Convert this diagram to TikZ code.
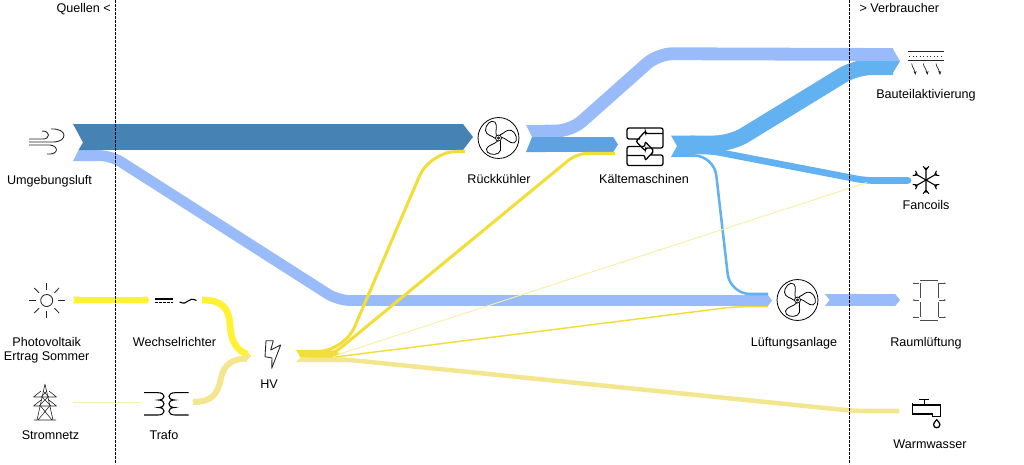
\documentclass[tikz,border=0pt]{standalone}
\usepackage{fontspec}
\setmainfont{Liberation Sans}
\usetikzlibrary{arrows.meta}
\definecolor{darkair}{RGB}{70,130,180}
\definecolor{coolair}{RGB}{154,187,250}
\definecolor{recool}{RGB}{94,162,225}
\definecolor{chilled}{RGB}{98,177,240}
\definecolor{pvyellow}{RGB}{255,241,51}
\definecolor{hvyellow}{RGB}{242,222,58}
\definecolor{paleyellow}{RGB}{243,230,143}
\definecolor{faintyellow}{RGB}{247,239,165}
\tikzset{every picture/.style={line width=0.75pt}}
\tikzset{
  lbl/.style={anchor=north,inner sep=0.75pt,align=center,text height=7pt,text depth=2pt,font=\fontsize{9.45}{10.5}\selectfont},
  band/.style={line join=round,rounded corners=9pt},
  bandends/.style={{Triangle Cap[reversed,length=#1]}-{Triangle Cap[length=#1]}},
  bandhead/.style={-{Triangle Cap[length=#1]}},
  icon/.style={line width=0.65pt,color=black!85},
  thinicon/.style={line width=0.4pt,color=black!70},
  fanicon/.pic={
    \draw [line width=0.6pt] (0,0) circle (3);
    \draw [line width=0.5pt] (0,0) circle (1.2);
    \draw [line width=0.6pt] (-1,-3) .. controls (-3,-6) and (-11,-7) .. (-12,-11) .. controls (-13,-16) and (-4,-18) .. (0,-15) .. controls (4,-12) and (1,-7) .. (2,-3);
    \draw [line width=0.6pt,rotate=120] (-1,-3) .. controls (-3,-6) and (-11,-7) .. (-12,-11) .. controls (-13,-16) and (-4,-18) .. (0,-15) .. controls (4,-12) and (1,-7) .. (2,-3);
    \draw [line width=0.6pt,rotate=240] (-1,-3) .. controls (-3,-6) and (-11,-7) .. (-12,-11) .. controls (-13,-16) and (-4,-18) .. (0,-15) .. controls (4,-12) and (1,-7) .. (2,-3);
  }
}

\begin{document}
\begin{tikzpicture}[x=0.75pt,y=0.75pt,yscale=-1,xscale=1]
\useasboundingbox (0,0) rectangle (1024,464);

% Ports of the flows
\coordinate (luftDark) at (95,137);
\coordinate (luftCool) at (90,155.5);
\coordinate (rueckIn) at (473,137);
\coordinate (rueckCoolOut) at (545,131);
\coordinate (rueckOut) at (545,144.5);
\coordinate (kaelteIn) at (618,144.5);
\coordinate (kaelteOutA) at (690,143.5);
\coordinate (kaelteOutB) at (690,151);
\coordinate (kaelteOutC) at (690,155.5);
\coordinate (bauteilCool) at (893,54.5);
\coordinate (bauteilCold) at (893,67);
\coordinate (fancoilIn) at (908,180.5);
\coordinate (lueftIn) at (772,300.5);
\coordinate (lueftInB) at (768,294);
\coordinate (lueftInY) at (768,306.7);
\coordinate (lueftOut) at (825,300);
\coordinate (raumIn) at (900,300);
\coordinate (pvOut) at (73,300);
\coordinate (wrIn) at (149,300);
\coordinate (wrOut) at (202,300);
\coordinate (netzOut) at (73,402.5);
\coordinate (trafoIn) at (140,402.5);
\coordinate (trafoOut) at (193,402);
\coordinate (hvInA) at (247,354);
\coordinate (hvInB) at (247,358.5);
\coordinate (hvOutA) at (310,351.5);
\coordinate (hvOutB) at (310,355);
\coordinate (hvOutC) at (335,355.5);
\coordinate (hvOutD) at (335,357);
\coordinate (hvOutE) at (310,359.5);
\coordinate (rueckInY) at (465,151.5);
\coordinate (kaelteInY) at (615,153.3);
\coordinate (fancoilInY) at (867,182.5);
\coordinate (warmIn) at (899,411);

% Light blue flows
\draw [band,coolair,line width=8.1pt,bandhead=3pt] (luftCool) -- (111,155.5) -- (338,300.5) -- (lueftIn);
\fill [coolair] (78.5,150) -- (73,161) -- (95,161) -- (95,150) -- cycle;
\draw [band,coolair,line width=8.8pt,bandends=3.5pt] (lueftOut) -- (raumIn);

% Dark blue flow
\fill [darkair] (73,124) -- (83,142.5) -- (78.5,150) -- (96,150) -- (96,124) -- cycle;
\draw [darkair,line width=19.5pt,bandhead=7.5pt] (luftDark) -- (rueckIn);

% Flows of the chillers
\draw [band,chilled,line width=12pt,rounded corners=12pt] (kaelteOutA) -- (731,143.5) -- (856,67) -- (bauteilCold);
\draw [band,chilled,line width=5pt,rounded corners=6pt,line cap=round] (kaelteOutB) -- (712,151) -- (865,180.5) -- (fancoilIn);
\draw [band,chilled,line width=1.9pt,rounded corners=15pt] (kaelteOutC) -- (714,155.5) -- (730,294) -- (lueftInB);
\fill [chilled] (671,135.5) -- (677,146) -- (671,157) -- (695,157) -- (695,135.5) -- cycle;
\fill [chilled] (892,61) -- (900,61) -- (892,74.5) -- cycle;
\draw [band,coolair,line width=9.6pt,rounded corners=11pt] (rueckCoolOut) -- (571,131) -- (658,53.7) -- (bauteilCool);
\fill [coolair] (892,47.5) -- (900,61) -- (892,61) -- cycle;
\fill [coolair] (526,125) -- (532,137) -- (546,137) -- (546,125) -- cycle;
\fill [recool] (532,137) -- (526,152) -- (546,152) -- (546,137) -- cycle;
\draw [recool,line width=11pt,bandhead=3.5pt] (rueckOut) -- (kaelteIn);

% Yellow flows into HV
\draw [pvyellow,line width=5pt,bandends=1.2pt] (pvOut) -- (wrIn);
\draw [pvyellow,line width=5pt] (wrOut) .. controls (222,300) and (229,308) .. (230,325) .. controls (231,343) and (238,351) .. (hvInA);
\fill [pvyellow] (246,350.7) -- (251,356) -- (246,356) -- cycle;
\draw [faintyellow,line width=0.9pt] (netzOut) -- (trafoIn);
\draw [paleyellow,line width=4.5pt] (trafoOut) .. controls (212,402) and (218,394) .. (221,378) .. controls (224,364) and (233,358.5) .. (hvInB);
\fill [paleyellow] (246,356) -- (251,356) -- (246,361.5) -- cycle;

% Yellow flows out of HV
\draw [band,faintyellow,line width=0.7pt] (hvOutC) -- (fancoilInY);
\draw [band,hvyellow,line width=1.1pt] (hvOutD) -- (735,306.7) -- (lueftInY);
\draw [band,paleyellow,line width=3.4pt] (hvOutE) -- (345,359.5) -- (855,411) -- (warmIn);
\fill [paleyellow] (300.5,357.5) -- (296,362) -- (346,362) -- (346,357.5) -- cycle;
\draw [band,hvyellow,line width=2.3pt,rounded corners=20pt] (hvOutA) -- (344,351.5) -- (430,151.5) -- (rueckInY);
\draw [band,hvyellow,line width=2.3pt,rounded corners=8pt] (hvOutB) -- (332,355) -- (577,153.3) -- (kaelteInY);
\fill [hvyellow] (296,350) -- (300.5,357.5) -- (332,357.5) -- (340,353) -- (330,350) -- cycle;

% Separators
\draw [black,line width=0.7pt,dash pattern=on 2pt off 1pt] (115,0) -- (115,464);
\draw [black,line width=0.7pt,dash pattern=on 2pt off 1pt] (849.5,0) -- (849.5,464);

% Wind
\draw [icon] (29,139) -- (43,139) .. controls (50,139) and (51,131) .. (42,131);
\draw [icon] (29,142) -- (53,142) .. controls (68,142) and (68,128) .. (51,129);
\draw [icon] (29,145) -- (50,145) .. controls (59,146) and (59,155) .. (47,154);
% Sun
\draw [icon] (46.7,300.5) circle (6);
\draw [icon] (29,300.5) -- (36,300.5) (57.5,300.5) -- (64.5,300.5) (46.7,283) -- (46.7,290) (46.7,311) -- (46.7,318);
\draw [icon] (34.3,288) -- (39,292.8) (54.4,308.2) -- (59.1,313) (34.3,313) -- (39,308.2) (54.4,292.8) -- (59.1,288);
% Tower
\draw [icon,line width=0.45pt] (45,384) -- (37,420) (45,384) -- (53,420) (34,420) -- (56,420);
\draw [icon,line width=0.45pt] (33.5,397) -- (56.5,397) (33.5,397) -- (41,391) (56.5,397) -- (49,391);
\draw [icon,line width=0.45pt] (33.5,406) -- (56.5,406) (33.5,406) -- (41,400) (56.5,406) -- (49,400);
\draw [icon,line width=0.45pt] (42,397) -- (51,406) (48,397) -- (39,406) (40.5,406) -- (52,420) (49.5,406) -- (38,420) (43,391) -- (49,397) (47,391) -- (41,397);
% Inverter
\draw [black,line width=0.8pt] (155,299) -- (173,299);
\draw [black,line width=0.8pt,dash pattern=on 2pt off 1pt] (155,302.7) -- (173,302.7);
\draw [black,line width=0.8pt] (179.5,302) .. controls (184,304) and (186,303) .. (188,301) .. controls (190,299) and (193,298.5) .. (196.5,300.5);
% Trafo
\draw [black,line width=0.8pt] (144,392.7) -- (158,392.7) .. controls (166,392.7) and (166,400) .. (158.5,400) .. controls (166,400) and (166,407.5) .. (158.5,407.5) .. controls (166,407.5) and (166,415) .. (158,415) -- (144,415);
\draw [black,line width=0.8pt] (188.5,392.7) -- (175,392.7) .. controls (167,392.7) and (167,400) .. (174.5,400) .. controls (167,400) and (167,407.5) .. (174.5,407.5) .. controls (167,407.5) and (167,415) .. (175,415) -- (188.5,415);
% Bolt
\draw [icon,line join=round] (266,340.7) -- (273.3,340.7) -- (270.7,350) -- (280.7,345) -- (271.7,368.3) -- (272,358) -- (265,356.7) -- cycle;
% Chillers
\draw [black,line width=0.95pt,rounded corners=1.5pt] (640,139) -- (627,139) -- (627,128) -- (663,128) -- (663,148) -- (645.5,148) -- (645.5,151) -- (636,141.5) -- (645.5,131) -- (645.5,133.5) -- (663,133.5);
\draw [black,line width=0.95pt,rounded corners=1.5pt] (650,155) -- (663,155) -- (663,165.5) -- (627,165.5) -- (627,146.5) -- (645,146.5) -- (645,141.5) -- (654,151) -- (645,160.5) -- (645,155.5) -- (627,155.5);
% Ceiling
\draw [icon] (907.5,51) -- (943.5,51) (907.5,60) -- (943.5,60);
\draw [icon,dotted] (909,56.5) -- (942,56.5);
\draw [icon,line width=0.5pt,-{Stealth[length=3pt]}] (911.7,63.5) .. controls (912,68) and (915,69) .. (915.3,75);
\draw [icon,line width=0.5pt,-{Stealth[length=3pt]}] (923.3,63.5) .. controls (923.6,68) and (927,69) .. (927.3,75);
\draw [icon,line width=0.5pt,-{Stealth[length=3pt]}] (936,63.5) .. controls (936.3,68) and (939.7,69) .. (940,75);
% Snowflake
\draw [black,line width=0.8pt] (926,180) -- (926,167.5) (923.2,166.3) -- (926,170) -- (928.8,166.3);
\draw [black,line width=0.8pt,rotate around={60:(926,180)}] (926,180) -- (926,167.5) (923.2,166.3) -- (926,170) -- (928.8,166.3);
\draw [black,line width=0.8pt,rotate around={120:(926,180)}] (926,180) -- (926,167.5) (923.2,166.3) -- (926,170) -- (928.8,166.3);
\draw [black,line width=0.8pt,rotate around={180:(926,180)}] (926,180) -- (926,167.5) (923.2,166.3) -- (926,170) -- (928.8,166.3);
\draw [black,line width=0.8pt,rotate around={240:(926,180)}] (926,180) -- (926,167.5) (923.2,166.3) -- (926,170) -- (928.8,166.3);
\draw [black,line width=0.8pt,rotate around={300:(926,180)}] (926,180) -- (926,167.5) (923.2,166.3) -- (926,170) -- (928.8,166.3);
% Room
\draw [thinicon] (920,280) -- (938.3,280) (920,320) -- (938.3,320);
\draw [thinicon] (920,283) -- (920,298) (920,302) -- (920,317) (938.3,283) -- (938.3,298) (938.3,302) -- (938.3,317);
\draw [thinicon,-{Stealth[length=1.5pt]}] (919,283.3) -- (912.5,283.3);
\draw [thinicon,-{Stealth[length=1.5pt]}] (919,300) -- (912.5,300);
\draw [thinicon,-{Stealth[length=1.5pt]}] (919,317.3) -- (912.5,317.3);
\draw [thinicon,-{Stealth[length=1.5pt]}] (939.3,283.3) -- (946,283.3);
\draw [thinicon,-{Stealth[length=1.5pt]}] (939.3,300) -- (946,300);
\draw [thinicon,-{Stealth[length=1.5pt]}] (939.3,317.3) -- (946,317.3);
% Tap
\draw [black,line width=0.95pt] (919.3,399.3) -- (929.3,399.3) (924.3,399.3) -- (924.3,405);
\draw [black,line width=0.95pt] (912.7,403) -- (912.7,414.5) (912.7,405) -- (940.7,405) -- (940.7,416.7) -- (932.7,416.7) -- (932.7,414) -- (912.7,414);
\draw [black,line width=0.95pt] (936.7,419.7) .. controls (935.5,421.5) and (933.5,422.5) .. (933.5,424.5) .. controls (933.5,428.8) and (939.9,428.8) .. (939.9,424.5) .. controls (939.9,422.5) and (937.9,421.5) .. (936.7,419.7) -- cycle;

% Fan Nodes
\draw (498.5,138) node (rueckFan) [circle,draw=black,line width=0.6pt,minimum size=30.7pt,inner sep=0pt] {};
\draw (797.5,300) node (lueftFan) [circle,draw=black,line width=0.6pt,minimum size=30.7pt,inner sep=0pt] {};
\path (498.5,138) pic {fanicon};
\path (797.5,300) pic {fanicon};

% Text Node
\draw (55,1.7) node (quellen) [lbl,anchor=north west] {Quellen <};
% Text Node
\draw (858,1.7) node (verbraucher) [lbl,anchor=north west] {> Verbraucher};
% Text Node
\draw (49.5,173.2) node (umgebung) [lbl] {Umgebungsluft};
% Text Node
\draw (46.7,349.7) node (pv) [lbl] {Photovoltaik\\Ertrag Sommer};
% Text Node
\draw (174.5,335.7) node (wechsel) [lbl] {Wechselrichter};
% Text Node
\draw (50.5,429) node (strom) [lbl] {Stromnetz};
% Text Node
\draw (164,429) node (trafo) [lbl] {Trafo};
% Text Node
\draw (269,377.7) node (hv) [lbl] {HV};
% Text Node
\draw (499,173) node (rueck) [lbl] {Rückkühler};
% Text Node
\draw (644,173) node (kaelte) [lbl] {Kältemaschinen};
% Text Node
\draw (926,88) node (bauteil) [lbl] {Bauteilaktivierung};
% Text Node
\draw (926,198.7) node (fancoils) [lbl] {Fancoils};
% Text Node
\draw (794,335.7) node (lueftung) [lbl] {Lüftungsanlage};
% Text Node
\draw (926,335.7) node (raum) [lbl] {Raumlüftung};
% Text Node
\draw (930,437.4) node (warm) [lbl] {Warmwasser};

\end{tikzpicture}
\end{document}
